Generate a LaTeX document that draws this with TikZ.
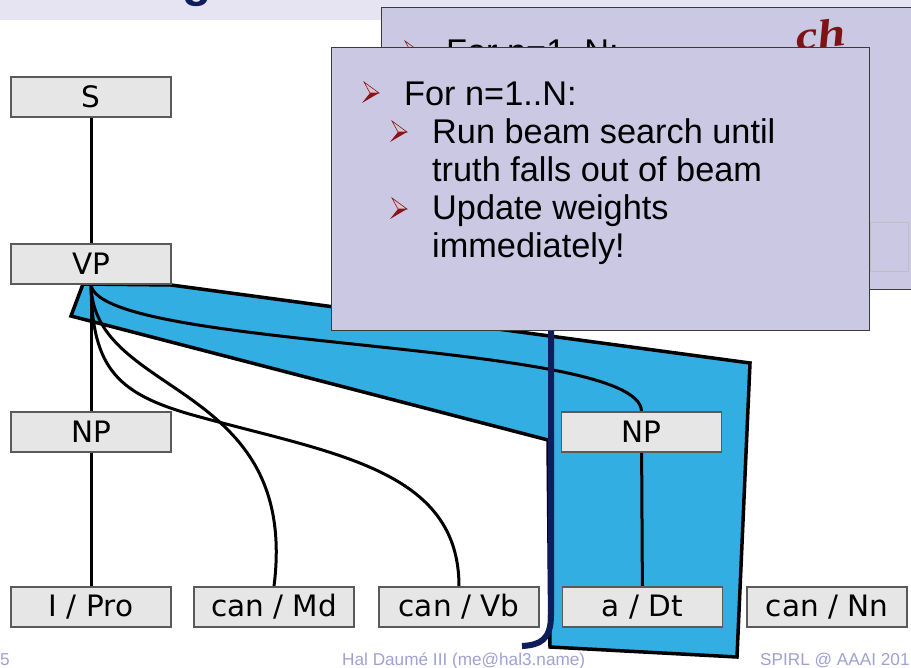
\documentclass[tikz,border=0pt]{standalone}
\usepackage{fontspec}
\newfontfamily\arialfont{Liberation Sans}
\newfontfamily\serifbi{Liberation Serif}
\newfontfamily\nodefont{DejaVu Sans}
\usetikzlibrary{backgrounds}

\definecolor{band}{HTML}{E6E4F2}
\definecolor{boxfill}{HTML}{CBC8E4}
\definecolor{boxborder}{HTML}{3A3A3A}
\definecolor{nodefill}{HTML}{E6E6E6}
\definecolor{nodeborder}{HTML}{5A5A5A}
\definecolor{beamblue}{HTML}{33AEE3}
\definecolor{navy}{HTML}{0E1E5B}
\definecolor{bulletred}{HTML}{8A1518}
\definecolor{bulletlight}{HTML}{D9C3CF}
\definecolor{titlered}{HTML}{7E1214}
\definecolor{footer}{HTML}{A0A0D2}

\begin{document}
\begin{tikzpicture}[x=1pt,y=-1pt,
  tnode/.style={draw=nodeborder, line width=1.5pt, fill=nodefill,
    minimum width=160pt, minimum height=40pt, inner sep=0pt,
    font=\nodefont\fontsize{29.5}{29.5}\selectfont, text=black},
  edge/.style={line width=3pt, black},
  slidebox/.style={draw=boxborder, line width=1.4pt, fill=boxfill},
  ftext/.style={anchor=base west, inner sep=0pt,
    font=\arialfont\fontsize{34.3}{34.3}\selectfont, text=black},
  foot/.style={anchor=base west, inner sep=0pt,
    font=\arialfont\fontsize{17.2}{17.2}\selectfont, text=footer},
  arrowbullet/.pic={
    \fill[bulletred] (-8,11) -- (9,1) -- (0,1) -- cycle;
    \draw[bulletred, line width=0.6pt, fill=bulletlight] (-6,-10) -- (9,1) -- (0,1) -- cycle;
  }]
\useasboundingbox (0,0) rectangle (911,668);

% title band with the bottom of the heading
\fill[band] (0,0) rectangle (911,20);
\node[anchor=base, inner sep=0pt, text=navy,
  font=\arialfont\bfseries\fontsize{48}{48}\selectfont] (titleg) at (197,-3) {g};

% parse tree nodes
\node[tnode] (S)   at (91,97)    {S};
\node[tnode] (VP)  at (91,264)   {VP};
\node[tnode] (NPl) at (91,432)   {NP};
\node[tnode] (NPr) at (641.5,432) {NP};
\node[tnode] (w1)  at (91,607)   {I / Pro};
\node[tnode] (w2)  at (274,607)  {can / Md};
\node[tnode] (w3)  at (459,607)  {can / Vb};
\node[tnode] (w4)  at (642.5,607) {a / Dt};
\node[tnode] (w5)  at (827,607)  {can / Nn};

\begin{scope}[on background layer]
  % highlighted beam region
  \draw[line width=3.5pt, fill=beamblue, line join=miter]
    (83,284) -- (171,285) -- (750,363) -- (737,657) -- (550,647)
    -- (548,440) -- (71,316) -- cycle;
  % tree edges
  \draw[edge] (S) -- (VP);
  \draw[edge] (VP) -- (NPl);
  \draw[edge] (NPl) -- (w1);
  \draw[edge] (NPr) -- (w4);
  \draw[edge] (VP.south) .. controls (93,398) and (300,380) .. (w2.north);
  \draw[edge] (VP.south) .. controls (92,370) and (118,395) .. (200,417)
    .. controls (335,454) and (459,470) .. (w3.north);
  \draw[edge] (VP.south) .. controls (100,350) and (640,340) .. (NPr.north);
\end{scope}

% beam boundary
\coordinate (nt) at (551,330);
\coordinate (nb) at (551,615);
\coordinate (ne) at (522,646);
\draw[line width=6pt, navy] (nt) -- (nb) .. controls (551,640) and (540,645) .. (ne);

% slide box behind
\node[slidebox, anchor=north west, minimum width=560pt, minimum height=282pt,
  inner sep=0pt] (back) at (381,7) {};
\draw[black!25, line width=1pt] (870,223) rectangle (908,272);
\pic at (411,51) {arrowbullet};
\node[ftext] (backl1) at (446,64) {For n=1..N:};
\node[anchor=base west, inner sep=0pt, rotate=7, text=titlered,
  font=\serifbi\bfseries\itshape\fontsize{40}{40}\selectfont] (backtitle) at (797,51)
  {\scalebox{1.25}[1]{ch}};

% slide box in front
\node[slidebox, anchor=north west, minimum width=538pt, minimum height=283pt,
  inner sep=0pt] (front) at (331,47) {};
\pic at (370,92) {arrowbullet};
\node[ftext] (l1) at (404,106) {For n=1..N:};
\pic at (398,131) {arrowbullet};
\node[ftext] (l2) at (432,144) {Run beam search until};
\node[ftext] (l3) at (432,182) {truth falls out of beam};
\pic at (398,208) {arrowbullet};
\node[ftext] (l4) at (432,220) {Update weights};
\node[ftext] (l5) at (432,258) {immediately!};

% footer
\node[foot] (fnum)  at (0,665)   {5};
\node[foot] (fname) at (342,665) {Hal Daumé III (me@hal3.name)};
\node[foot] (fconf) at (760,665) {SPIRL @ AAAI 201};
\end{tikzpicture}
\end{document}
